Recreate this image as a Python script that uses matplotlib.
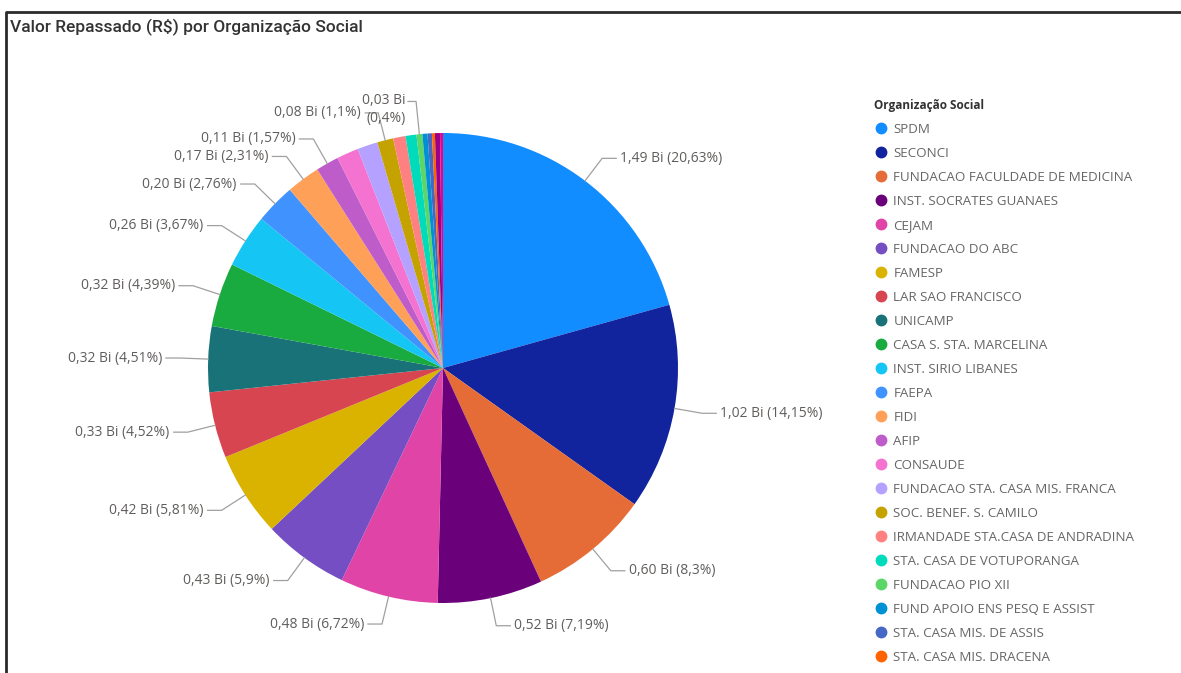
import matplotlib
matplotlib.use('Agg')
import matplotlib.pyplot as plt
from matplotlib.lines import Line2D
import numpy as np

# Organizações na ordem do gráfico (legenda mostra só as 23 primeiras)
organizacoes = [
    'SPDM', 'SECONCI', 'FUNDACAO FACULDADE DE MEDICINA', 'INST. SOCRATES GUANAES',
    'CEJAM', 'FUNDACAO DO ABC', 'FAMESP', 'LAR SAO FRANCISCO', 'UNICAMP',
    'CASA S. STA. MARCELINA', 'INST. SIRIO LIBANES', 'FAEPA', 'FIDI', 'AFIP',
    'CONSAUDE', 'FUNDACAO STA. CASA MIS. FRANCA', 'SOC. BENEF. S. CAMILO',
    'IRMANDADE STA.CASA DE ANDRADINA', 'STA. CASA DE VOTUPORANGA', 'FUNDACAO PIO XII',
    'FUND APOIO ENS PESQ E ASSIST', 'STA. CASA MIS. DE ASSIS', 'STA. CASA MIS. DRACENA',
    'OUTRA 1', 'OUTRA 2',
]
# percentual de cada fatia (%)
percentuais = [20.63, 14.15, 8.3, 7.19, 6.72, 5.9, 5.81, 4.52, 4.51, 4.39, 3.67, 2.76,
               2.31, 1.57, 1.5, 1.4, 1.1, 0.85, 0.75, 0.4, 0.35, 0.3, 0.2, 0.35, 0.2]
# valor repassado (bilhões de R$), None = sem rótulo no gráfico
valores_bi = [1.49, 1.02, 0.60, 0.52, 0.48, 0.43, 0.42, 0.33, 0.32, 0.32, 0.26, 0.20,
              0.17, 0.11, None, None, 0.08, None, None, 0.03, None, None, None, None, None]

cores = ['#118DFF', '#12239E', '#E66C37', '#6B007B', '#E044A7', '#744EC2', '#D9B300',
         '#D64550', '#197278', '#1AAB40', '#15C6F4', '#4092FF', '#FFA058', '#BE5DC9',
         '#F472D0', '#B5A1FF', '#C4A200', '#FF8080', '#00DBBC', '#5BD667', '#0091D5',
         '#4668C5', '#FF6300', '#99008A', '#EC008C']

plt.rcParams['font.family'] = ['Open Sans', 'DejaVu Sans']


def fmt_pct(p):
    s = f'{p:.2f}'.rstrip('0').rstrip('.')
    return s.replace('.', ',') + '%'


fig = plt.figure(figsize=(11.81, 6.73), dpi=100)
ax = fig.add_axes([0, 0, 1, 1])

cx, cy, raio = 443, 305, 235
wedges, _ = ax.pie(percentuais, colors=cores, startangle=90, counterclock=False,
                   center=(cx, cy), radius=raio, frame=True)
ax.set_xlim(0, 1181)
ax.set_ylim(0, 673)
ax.axis('off')

# rótulos com linha de chamada
cor_linha = '#a0a0a0'
cor_texto = '#605E5C'
for i, w in enumerate(wedges):
    if valores_bi[i] is None:
        continue
    ang = np.deg2rad((w.theta1 + w.theta2) / 2)
    ux, uy = np.cos(ang), np.sin(ang)
    lado = 1 if ux >= 0 else -1
    txt = f'{valores_bi[i]:.2f}'.replace('.', ',') + ' Bi (' + fmt_pct(percentuais[i]) + ')'
    fator, horiz = 1.12, 14
    if i == 16:
        horiz = 13
    if i == 19:
        # rótulo em duas linhas acima da pizza
        fator, horiz = 1.14, 8
        txt = txt.replace(' (', '\n(')
    x0, y0 = cx + raio * ux, cy + raio * uy
    x1, y1 = cx + raio * fator * ux, cy + raio * fator * uy
    x2 = x1 + lado * horiz
    ax.plot([x0, x1, x2], [y0, y1, y1], color=cor_linha, lw=0.9)
    if i == 19:
        ax.text(x2 - 2, y1 - 8, txt, ha='right', va='center', fontsize=10,
                color=cor_texto, linespacing=1.25)
    else:
        ax.text(x2 + lado * 4, y1, txt, ha='left' if lado > 0 else 'right',
                va='center', fontsize=10, color=cor_texto)

# legenda (somente as 23 primeiras, como no original)
n_leg = 23
handles = [Line2D([], [], marker='o', ls='', color=cores[k], markersize=7.5)
           for k in range(n_leg)]
leg = ax.legend(handles, organizacoes[:n_leg], loc='upper left',
                bbox_to_anchor=(874 / 1181, 1 - 99 / 673), frameon=False,
                title='Organização Social', alignment='left', fontsize=9.6,
                title_fontproperties={'weight': 'bold', 'size': 8.5},
                labelcolor='#666666', labelspacing=0.825, handletextpad=0.45,
                handlelength=1.0, borderaxespad=0, borderpad=0)
leg.get_title().set_color('#333333')

fig.text(10 / 1181, 1 - 27 / 673, 'Valor Repassado (R\\$) por Organização Social',
         fontsize=12.5, color='#333333', family=['Roboto', 'DejaVu Sans'],
         fontweight='medium', va='center')

# moldura do visual
fig.add_artist(Line2D([6 / 1181, 6 / 1181, 1], [0, 1 - 12 / 673, 1 - 12 / 673],
                      transform=fig.transFigure, color='#2b2b2b', lw=2))

fig.savefig('out.png', dpi=100, facecolor='white')
